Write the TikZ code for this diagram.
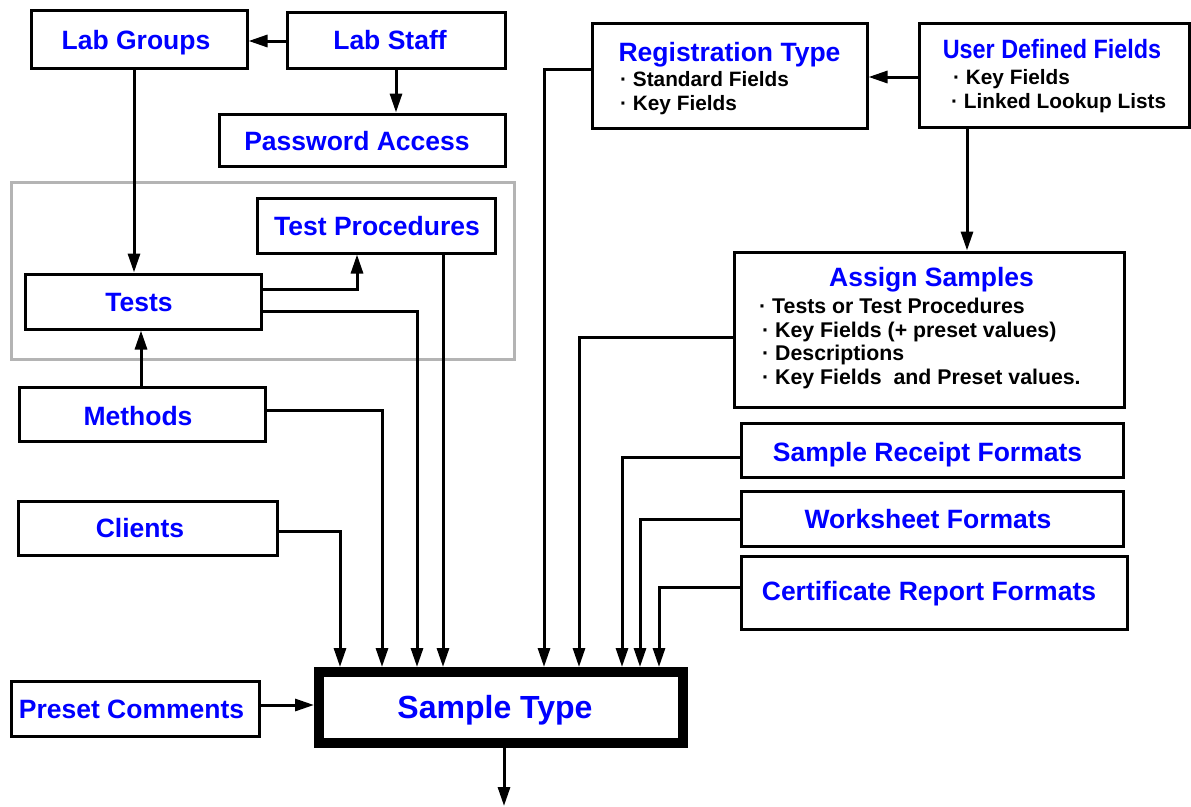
\documentclass[tikz,border=0pt]{standalone}
\usepackage{fontspec}
\setmainfont{Liberation Sans}
\usetikzlibrary{arrows.meta}
\definecolor{ttlblue}{RGB}{0,0,255}
\definecolor{grp}{RGB}{180,180,180}
\newcommand{\drawbox}[5]{%
  \node[box, minimum width={#4pt-#2pt}, minimum height={#5pt-#3pt}] (#1) at ({(#2+#4)/2},{(#3+#5)/2}) {};}
\begin{document}
\begin{tikzpicture}[x=1pt,y=-1pt,
  box/.style={draw=black, line width=3pt, fill=white, rectangle, inner sep=0pt, outer sep=1.5pt},
  ttl/.style={text=ttlblue, font=\fontsize{26.5}{30}\selectfont\bfseries, anchor=base, inner sep=0pt},
  blt/.style={text=black, font=\fontsize{20.8}{24}\selectfont\bfseries, anchor=base west, inner sep=0pt},
  bltb/.style={blt, font=\fontsize{21.3}{24}\selectfont\bfseries},
  conn/.style={draw=black, line width=3pt},
  arr/.style={conn, -{Triangle[length=19pt,width=12pt]}}]
\useasboundingbox (0,0) rectangle (1191,806);
\fill[white] (0,0) rectangle (1191,806);
% group frame
\draw[grp, line width=3pt] (11,182) rectangle (514,359);
% boxes
\drawbox{LG}{31}{10}{247}{68}
\drawbox{LS}{287}{12}{505}{68}
\drawbox{PA}{219}{114}{505}{166}
\drawbox{TP}{257}{198}{495}{253}
\drawbox{TS}{25}{274}{261}{329}
\drawbox{ME}{19}{387}{265}{441}
\drawbox{CL}{18}{501}{277}{555}
\drawbox{PC}{11}{681}{259}{736}
\node[draw=black, line width=10pt, outer sep=5pt, fill=white, inner sep=0pt,
      minimum width=364pt, minimum height=71pt] (ST) at (501,707.5) {};
\drawbox{RT}{592}{23}{867}{128}
\drawbox{UD}{919}{23}{1189}{127}
\drawbox{AS}{734}{252}{1124}{407}
\drawbox{SR}{741}{423}{1123}{477}
\drawbox{WS}{741}{491}{1123}{546}
\drawbox{CR}{741}{556}{1127}{629}
% texts
\node[ttl] at (136,49) {Lab Groups};
\node[ttl] at (390,49) {Lab Staff};
\node[ttl] at (357,150) {Password Access};
\node[ttl] at (377,235) {Test Procedures};
\node[ttl] at (139,311) {Tests};
\node[ttl] at (138,425) {Methods};
\node[ttl] at (140,537) {Clients};
\node[ttl] at (131.5,718) {Preset Comments};
\node[ttl, font=\fontsize{32}{36}\selectfont\bfseries] at (495,718) {Sample Type};
\node[ttl] at (729.5,61) {Registration Type};
\node[blt] at (620,86) {· Standard Fields};
\node[blt] at (620,110) {· Key Fields};
\node[ttl] at (1052,58) {\scalebox{0.883}[1]{User Defined Fields}};
\node[blt] at (953,84) {· Key Fields};
\node[blt] at (951,108) {· Linked Lookup Lists};
\node[ttl] at (931.5,286) {Assign Samples};
\node[bltb] at (759,313) {· Tests or Test Procedures};
\node[bltb] at (762,337) {· Key Fields (+ preset values)};
\node[bltb] at (762,360) {· Descriptions};
\node[bltb] at (762,384) {· Key Fields\ \ and Preset values.};
\node[ttl] at (927.5,461) {Sample Receipt Formats};
\node[ttl] at (928,528) {Worksheet Formats};
\node[ttl] at (929,600) {Certificate Report Formats};
% connectors
\draw[arr] (LS.west |- 0,41) -- (LG.east |- 0,41);
\draw[arr] (LS.south -| 396,0) -- (PA.north -| 396,0);
\draw[arr] (LG.south -| 134,0) -- (TS.north -| 134,0);
\draw[arr] (ME.north -| 141,0) -- (TS.south -| 141,0);
\draw[arr] (TS.east |- 0,289) -| (TP.south -| 357,0);
\draw[arr] (TS.east |- 0,311) -| (ST.north -| 417,0);
\draw[arr] (TP.south -| 443,0) -- (ST.north -| 443,0);
\draw[arr] (ME.east |- 0,410) -| (ST.north -| 382,0);
\draw[arr] (CL.east |- 0,531) -| (ST.north -| 340,0);
\draw[arr] (PC.east |- 0,705) -- (ST.west |- 0,705);
\coordinate (out) at (504,806);
\draw[arr] (ST.south -| 504,0) -- (out);
\draw[arr] (RT.west |- 0,69) -| (ST.north -| 544,0);
\draw[arr] (UD.west |- 0,77) -- (RT.east |- 0,77);
\draw[arr] (UD.south -| 967,0) -- (AS.north -| 967,0);
\draw[arr] (AS.west |- 0,337) -| (ST.north -| 579,0);
\draw[arr] (SR.west |- 0,457) -| (ST.north -| 622,0);
\draw[arr] (WS.west |- 0,519) -| (ST.north -| 640,0);
\draw[arr] (CR.west |- 0,587) -| (ST.north -| 659,0);
\end{tikzpicture}
\end{document}
